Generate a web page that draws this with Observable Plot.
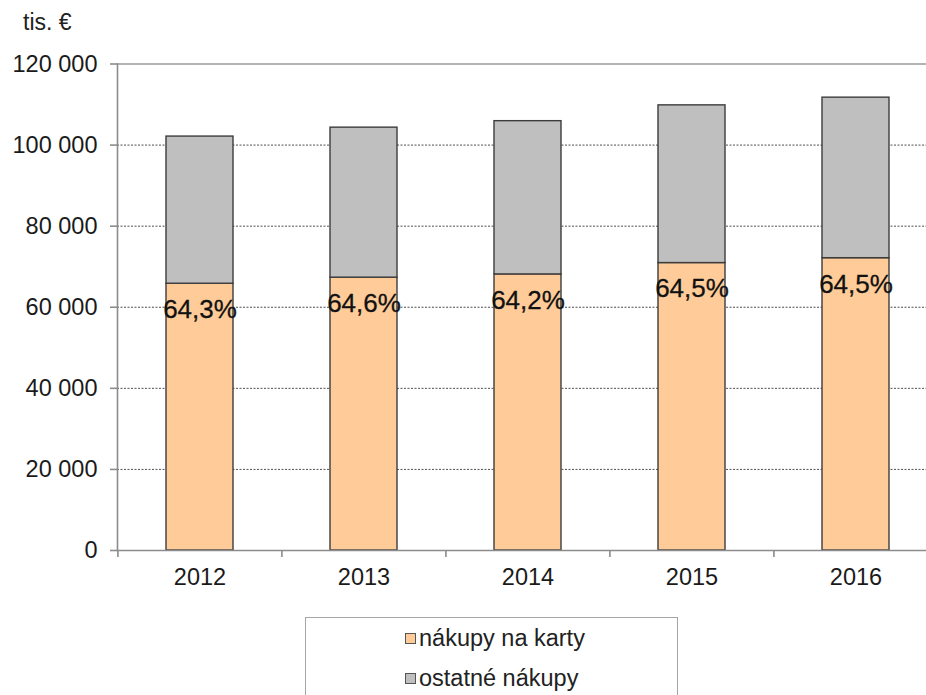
<!DOCTYPE html>
<html>
<head>
<meta charset="utf-8">
<script src="https://cdn.jsdelivr.net/npm/d3@7"></script>
<script src="https://cdn.jsdelivr.net/npm/@observablehq/plot@0.6"></script>
<style>
  html, body { margin: 0; padding: 0; background: #fff; overflow: hidden; }
  body { width: 926px; height: 695px; position: relative; font-family: "Liberation Sans", Arial, sans-serif; }
  #unit { position: absolute; left: 23px; top: 8px; font-size: 23px; line-height: 28px; color: #222; }
  #chart { position: absolute; left: 0; top: 0; }
  #legend { position: absolute; left: 305px; top: 617px; width: 373px; height: 90px; border: 1px solid #a6a6a6; box-sizing: border-box; }
  .item { position: absolute; left: 99px; display: flex; align-items: center; font-size: 23.5px; line-height: 28px; color: #222; }
  .sw { width: 9px; height: 9px; border: 1px solid #555; margin-right: 3px; }
</style>
</head>
<body>
<div id="unit">tis. €</div>
<div id="chart"></div>
<div id="legend"></div>
<script>
const years = ["2012", "2013", "2014", "2015", "2016"];
const series = ["nákupy na karty", "ostatné nákupy"];
const cards = [65800, 67300, 68100, 70900, 72100];
const others = [36300, 37000, 37800, 38900, 39600];
const pctLabels = ["64,3%", "64,6%", "64,2%", "64,5%", "64,5%"];
const yTicks = [0, 20000, 40000, 60000, 80000, 100000, 120000];
const colors = ["#FFCC99", "#BFBFBF"];

const table = [];
years.forEach((y, i) => {
  table.push({year: y, series: series[0], value: cards[i]});
  table.push({year: y, series: series[1], value: others[i]});
});
const labels = years.map((y, i) => ({year: y, value: cards[i], text: pctLabels[i]}));

const fmt = d => d3.format(",")(d).replace(/,/g, " ");

const chart = Plot.plot({
  width: 926,
  height: 600,
  marginLeft: 117,
  marginRight: -12,
  marginTop: 63.5,
  marginBottom: 50,
  style: {fontFamily: "'Liberation Sans', Arial, sans-serif", background: "transparent", overflow: "visible"},
  x: {domain: years, paddingInner: 0.59, paddingOuter: 0.295, label: null},
  y: {domain: [0, 120000], label: null},
  color: {domain: series, range: colors},
  marks: [
    Plot.gridY(yTicks.filter(d => d > 0 && d < 120000), {stroke: "#222", strokeOpacity: 1, strokeWidth: 0.8, strokeDasharray: "2,1.5"}),
    Plot.ruleY([120000], {stroke: "#9a9a9a", strokeWidth: 1.3}),
    Plot.barY(table, {x: "year", y: "value", fill: "series", stroke: "#3c3c3c", strokeWidth: 1.4}),
    Plot.ruleY([0], {stroke: "#8c8c8c", strokeWidth: 1.6}),
    Plot.frame({anchor: "left", stroke: "#8c8c8c", strokeWidth: 1.6}),
    Plot.ruleX(years, {x: d => d, dx: -82.1, y1: 0, y2: 0, insetBottom: -7, stroke: "#8c8c8c", strokeWidth: 1.6}),
    Plot.axisY({ticks: yTicks, tickFormat: fmt, tickSize: 7, tickPadding: 13, fontSize: 23.5, fill: "#1a1a1a", stroke: "#8c8c8c", strokeWidth: 1.6, label: null}),
    Plot.axisX({tickSize: 0, tickPadding: 18, fontSize: 23.5, fill: "#1a1a1a", label: null}),
    Plot.text(labels, {x: "year", y: "value", text: "text", dy: 26, fontSize: 26, fill: "#111", stroke: "#111", strokeWidth: 0.3})
  ]
});
document.getElementById("chart").appendChild(chart);

const legend = document.getElementById("legend");
series.forEach((s, i) => {
  const item = document.createElement("div");
  item.className = "item";
  item.style.top = (i === 0 ? 6 : 46) + "px";
  const sw = document.createElement("span");
  sw.className = "sw";
  sw.style.background = colors[i];
  const t = document.createElement("span");
  t.textContent = s;
  item.appendChild(sw);
  item.appendChild(t);
  legend.appendChild(item);
});
</script>
</body>
</html>
